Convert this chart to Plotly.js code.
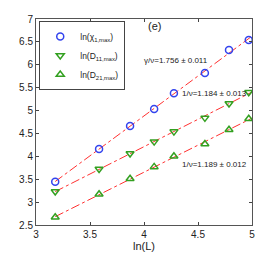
<!DOCTYPE html>
<html><head><meta charset="utf-8">
<script src="https://cdn.plot.ly/plotly-3.0.1.min.js"></script>
<style>body{margin:0;background:#fff}#c{width:278px;height:253px}</style>
</head><body><div id="c"></div>
<script>
var lnL = [3.178, 3.584, 3.871, 4.094, 4.277, 4.564, 4.787, 4.970];
var chi1 = [3.447, 4.162, 4.664, 5.035, 5.378, 5.821, 6.323, 6.541];
var d11 = [3.23, 3.725, 4.062, 4.321, 4.54, 4.84, 5.155, 5.40];
var d21 = [2.67, 3.172, 3.51, 3.769, 4.0, 4.271, 4.58, 4.82];
var names = ['ln(χ<sub>1,max</sub>)', 'ln(D<sub>11,max</sub>)', 'ln(D<sub>21,max</sub>)'];
var labels = ['γ/ν=1.756 ± 0.011', '1/ν=1.184 ± 0.013', '1/ν=1.189 ± 0.012'];

function fit(x, y) {
  var n = x.length, sx = 0, sy = 0, sxx = 0, sxy = 0;
  for (var i = 0; i < n; i++) { sx += x[i]; sy += y[i]; sxx += x[i]*x[i]; sxy += x[i]*y[i]; }
  var b = (n*sxy - sx*sy) / (n*sxx - sx*sx);
  var a = (sy - b*sx) / n;
  var xs = [x[0], 5];
  return {x: xs, y: xs.map(function(v){return a + b*v;})};
}
var series = [chi1, d11, d21];
var symbols = ['circle-open', 'triangle-down-open', 'triangle-up-open'];
var colors = ['#3344ee', '#33a020', '#33a020'];
var traces = [];
series.forEach(function(s, i) {
  var f = fit(lnL, s);
  traces.push({x: f.x, y: f.y, mode: 'lines', showlegend: false,
    line: {color: '#ff3030', width: 1, dash: 'dashdot'}, hoverinfo: 'skip'});
});
series.forEach(function(s, i) {
  traces.push({x: lnL, y: s, mode: 'markers', name: names[i],
    marker: {symbol: symbols[i], size: 7, color: colors[i], line: {width: 1.5, color: colors[i]}}});
});
var fnt = {family: 'Liberation Sans, Arial, sans-serif', size: 10, color: '#222'};
var small = {family: fnt.family, size: 8, color: '#222'};
var layout = {
  width: 278, height: 253,
  margin: {l: 36, r: 26, t: 19, b: 28},
  paper_bgcolor: '#fff', plot_bgcolor: '#fff',
  font: fnt,
  showlegend: true,
  legend: {x: 0.015, y: 0.99, xanchor: 'left', yanchor: 'top', bgcolor: '#fff',
    bordercolor: '#444', borderwidth: 1, font: {family: fnt.family, size: 8.5, color: '#222'},
    tracegroupgap: 0, itemwidth: 30},
  xaxis: {range: [3, 5], tickvals: [3, 3.5, 4, 4.5, 5], ticktext: ['3','3.5','4','4.5','5'],
    ticks: 'inside', ticklen: 3, tickcolor: '#444', mirror: 'ticks', showline: true,
    linecolor: '#555', linewidth: 1, showgrid: false, zeroline: false,
    title: {text: 'ln(L)', font: {family: fnt.family, size: 11, color: '#222'}, standoff: 1}},
  yaxis: {range: [2.5, 7], tickvals: [2.5,3,3.5,4,4.5,5,5.5,6,6.5,7],
    ticktext: ['2.5','3','3.5','4','4.5','5','5.5','6','6.5','7'],
    ticks: 'inside', ticklen: 3, tickcolor: '#444', mirror: 'ticks', showline: true,
    linecolor: '#555', linewidth: 1, showgrid: false, zeroline: false},
  annotations: [
    {x: 0.51, y: 0.965, xref: 'paper', yref: 'paper', text: '(e)', showarrow: false,
      xanchor: 'left', yanchor: 'middle', font: {family: fnt.family, size: 11, color: '#222'}},
    {x: 0.49, y: 0.80, xref: 'paper', yref: 'paper', text: labels[0], showarrow: false,
      xanchor: 'left', yanchor: 'middle', font: small},
    {x: 0.665, y: 0.64, xref: 'paper', yref: 'paper', text: labels[1], showarrow: false,
      xanchor: 'left', yanchor: 'middle', font: small},
    {x: 0.665, y: 0.295, xref: 'paper', yref: 'paper', text: labels[2], showarrow: false,
      xanchor: 'left', yanchor: 'middle', font: small}
  ]
};
Plotly.newPlot('c', traces, layout, {displayModeBar: false, staticPlot: true});
</script></body></html>
